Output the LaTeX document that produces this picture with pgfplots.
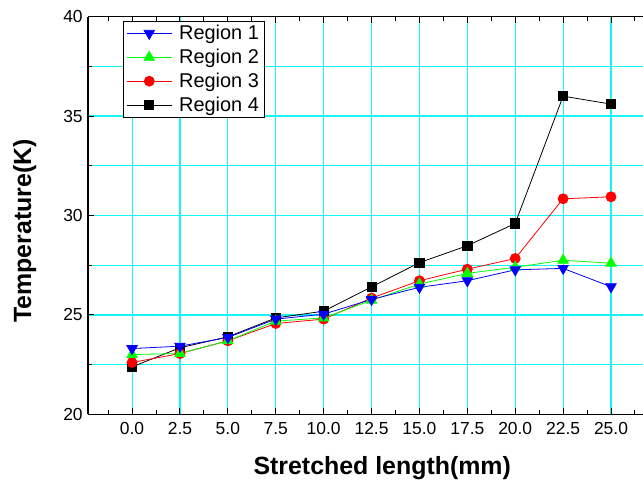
\documentclass[border=0pt]{standalone}
\usepackage{fontspec}
\setmainfont{Liberation Sans}
\usepackage{pgfplots}
\pgfplotsset{compat=1.18}
\definecolor{gridcyan}{RGB}{20,245,245}
\begin{document}
\begin{tikzpicture}
\begin{axis}[
  scale only axis,
  width=554.8bp, height=397.8bp,
  xmin=-2.29, xmax=26.67,
  ymin=20, ymax=40,
  axis x line*=box, axis y line*=left,
  axis line style={line width=1.5bp},
  xtick={0,2.5,...,25},
  xticklabels={0.0,2.5,5.0,7.5,10.0,12.5,15.0,17.5,20.0,22.5,25.0},
  minor xtick={-1.25,1.25,...,26.25},
  ytick={20,25,30,35,40},
  yticklabels={20,25,30,35,40},
  minor ytick={22.5,27.5,32.5,37.5},
  xmajorgrids, ymajorgrids, yminorgrids,
  major grid style={gridcyan, line width=1.1bp},
  minor grid style={gridcyan, line width=1.1bp},
  tick align=inside,
  tick style={black, line width=1bp},
  major tick length=6bp, minor tick length=4bp,
  tick label style={font=\fontsize{17.5}{20}\selectfont},
  xticklabel style={yshift=-4.5bp},
  yticklabel style={xshift=-2bp},
  xlabel={Stretched length(mm)},
  ylabel={Temperature(K)},
  label style={font=\fontsize{25}{28}\selectfont\bfseries},
  xlabel style={at={(axis description cs:0.53,-0.151)}, anchor=base},
  ylabel style={at={(axis description cs:-0.103,0.461)}, anchor=base, rotate=0},
  legend style={at={(axis description cs:0.0627,0.989)}, anchor=north west,
    draw=black, line width=0.8bp, fill=white,
    font=\fontsize{20}{22}\selectfont,
    inner xsep=3bp, inner ysep=2bp, row sep=4bp,
    nodes={inner sep=2bp}},
  legend cell align=left,
  legend image code/.code={\draw[mark repeat=2,mark phase=2,#1] plot coordinates {(0bp,0bp) (22.5bp,0bp) (45bp,0bp)}; \path (50bp,0bp);},
  reverse legend,
]
\addplot[black, line width=0.8bp, mark=square*, mark size=4.6bp, mark options={solid}] coordinates {
(0,22.39) (2.5,23.35) (5,23.9) (7.5,24.85) (10,25.19) (12.5,26.41) (15,27.63) (17.5,28.48) (20,29.6) (22.5,36.0) (25,35.6)};
\addlegendentry{Region 4}
\addplot[red, line width=0.8bp, mark=*, mark size=5bp, mark options={solid}] coordinates {
(0,22.61) (2.5,23.06) (5,23.70) (7.5,24.57) (10,24.79) (12.5,25.85) (15,26.72) (17.5,27.3) (20,27.84) (22.5,30.84) (25,30.94)};
\addlegendentry{Region 3}
\addplot[green, line width=0.8bp, mark=triangle*, mark size=6bp, mark options={solid}] coordinates {
(0,23.01) (2.5,23.06) (5,23.70) (7.5,24.69) (10,24.85) (12.5,25.74) (15,26.55) (17.5,27.09) (20,27.4) (22.5,27.75) (25,27.6)};
\addlegendentry{Region 2}
\addplot[blue, line width=0.8bp, mark=triangle*, mark size=6bp, mark options={solid, rotate=180}] coordinates {
(0,23.31) (2.5,23.43) (5,23.87) (7.5,24.79) (10,25.04) (12.5,25.78) (15,26.39) (17.5,26.72) (20,27.27) (22.5,27.34) (25,26.42)};
\addlegendentry{Region 1}
\coordinate (bl) at (rel axis cs:0,0);
\coordinate (tr) at (rel axis cs:1,1);
\end{axis}
\pgfresetboundingbox
\path[use as bounding box] ([shift={(-88.2bp,-68.6bp)}]bl) rectangle ([shift={(0bp,16.6bp)}]tr);
\end{tikzpicture}
\end{document}
